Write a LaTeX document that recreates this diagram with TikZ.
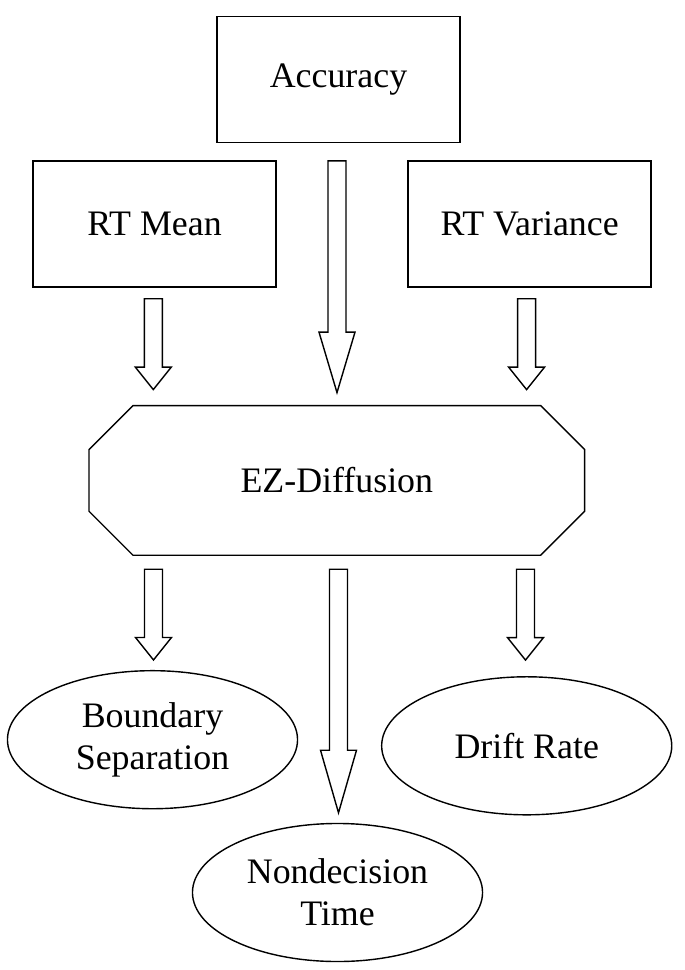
\documentclass[tikz,border=0pt]{standalone}
\usepackage{fontspec}
\setmainfont{Liberation Serif}
\usetikzlibrary{calc,shapes.geometric}

\tikzset{
  box/.style={draw, line width=1pt, minimum width=6.07cm, minimum height=3.15cm},
  oval/.style={draw, ellipse, line width=1pt, minimum width=7.25cm, minimum height=3.45cm, align=center},
  model/.style={minimum width=12.375cm, minimum height=3.725cm},
  fat/.style={line width=1pt, to path={let \p1=(\tikztostart), \p2=(\tikztotarget) in
    (\x1-6.4pt,\y1) -- (\x1+6.4pt,\y1) -- (\x1+6.4pt,\y2+#1) -- (\x1+12.8pt,\y2+#1)
    -- (\x1,\y2) -- (\x1-12.8pt,\y2+#1) -- (\x1-6.4pt,\y2+#1) -- cycle}},
  fat/.default=16pt
}

\begin{document}
\begin{tikzpicture}[x=0.025cm,y=-0.025cm,every node/.style={font=\fontsize{25.5pt}{30pt}\selectfont}]
\useasboundingbox (0,0) rectangle (684,970);
%draw measures
\node[box] (acc) at (338.5,79.7) {Accuracy};
\node[box] (rtmean) at (154.6,224) {RT Mean};
\node[box] (rtvar) at (529.6,224) {RT Variance};
%draw model (octagon with cut corners)
\node[model] (ez) at (336.8,480.4) {EZ-Diffusion};
\draw[line width=1pt] ($(ez.north west)+(44,0)$) -- ($(ez.north east)+(-44,0)$)
  -- ($(ez.north east)+(0,44)$) -- ($(ez.south east)+(0,-44)$)
  -- ($(ez.south east)+(-44,0)$) -- ($(ez.south west)+(44,0)$)
  -- ($(ez.south west)+(0,-44)$) -- ($(ez.north west)+(0,44)$) -- cycle;
%draw parameters
\node[oval] (bound) at (152.5,739.7) {Boundary\\Separation};
\node[oval] (nondec) at (337.5,892.5) {Nondecision\\Time};
\node[oval] (drift) at (526.7,745.8) {Drift Rate};
% arrows into the model
\draw[fat] ($(rtmean.south)+(-1.3,11)$) to ($(ez.north)+(0,-16)$);
\draw[fat=43pt] ($(acc.south)+(-1.5,17.5)$) to ($(ez.north)+(0,-13)$);
\draw[fat] ($(rtvar.south)+(-3,11)$) to ($(ez.north)+(0,-16)$);
% arrows out of the model
\draw[fat] ($(ez.south -| bound.north)+(1,14)$) to ($(bound.north)+(0,-10)$);
\draw[fat=44.5pt] ($(ez.south)+(1.7,14)$) to ($(nondec.north)+(0,-10)$);
\draw[fat] ($(ez.south -| drift.north)+(-1.2,14)$) to ($(drift.north)+(0,-16)$);
\end{tikzpicture}
\end{document}
